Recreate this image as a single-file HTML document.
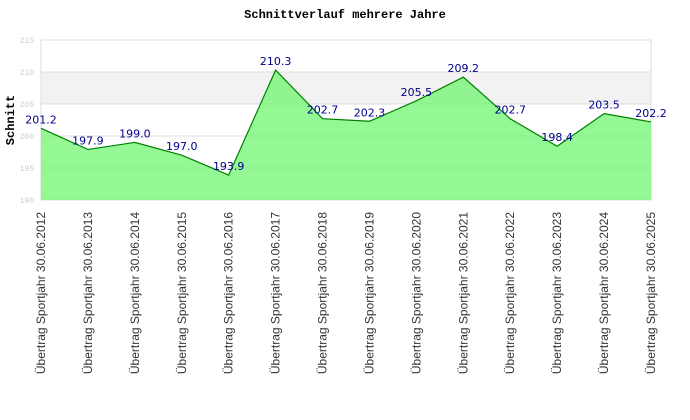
<!DOCTYPE html>
<html><head><meta charset="utf-8"><style>
body{margin:0;background:#fff}
svg{display:block}
</style></head><body>
<svg width="690" height="420" xmlns="http://www.w3.org/2000/svg">
<rect width="690" height="420" fill="#fff"/>
<text x="345" y="18" text-anchor="middle" font-family="Liberation Mono, monospace" font-weight="bold" font-size="12" fill="#000">Schnittverlauf mehrere Jahre</text>
<text transform="translate(14,120) rotate(-90)" text-anchor="middle" font-family="Liberation Mono, monospace" font-weight="bold" font-size="12" fill="#000">Schnitt</text>
<g id="grid"></g>
<g id="marks"></g>
<g id="labels"></g>
</svg>
<script>
const categories=["Übertrag Sportjahr 30.06.2012","Übertrag Sportjahr 30.06.2013","Übertrag Sportjahr 30.06.2014","Übertrag Sportjahr 30.06.2015","Übertrag Sportjahr 30.06.2016","Übertrag Sportjahr 30.06.2017","Übertrag Sportjahr 30.06.2018","Übertrag Sportjahr 30.06.2019","Übertrag Sportjahr 30.06.2020","Übertrag Sportjahr 30.06.2021","Übertrag Sportjahr 30.06.2022","Übertrag Sportjahr 30.06.2023","Übertrag Sportjahr 30.06.2024","Übertrag Sportjahr 30.06.2025"];
const values=[201.2,197.9,199.0,197.0,193.9,210.3,202.7,202.3,205.5,209.2,202.7,198.4,203.5,202.2];
const yTicks=[190,195,200,205,210,215];
const NS="http://www.w3.org/2000/svg";
const L=41,R=651,T=40,B=200,ymin=190,ymax=215;
const xs=i=>L+(R-L)*i/(categories.length-1);
const ys=v=>B-(v-ymin)/(ymax-ymin)*(B-T);
function mk(t,a,p){const e=document.createElementNS(NS,t);for(const k in a)e.setAttribute(k,a[k]);p.appendChild(e);return e;}
const grid=document.getElementById('grid'),marks=document.getElementById('marks'),labels=document.getElementById('labels');
const band=mk('rect',{x:L,y:ys(210),width:R-L,height:ys(205)-ys(210),fill:'#f2f2f2'},grid);


yTicks.forEach(t=>{
 const ln=mk('line',{x1:L,x2:R,y1:ys(t),y2:ys(t),stroke:'#ddd','stroke-width':1},grid);
 
 
 const tx=mk('text',{x:L-7,y:ys(t)+3,'text-anchor':'end','font-family':'Liberation Mono, monospace','font-size':8,fill:'#ccc'},grid);
 tx.textContent=t;
 
 
});
const bl=mk('line',{x1:L,x2:L,y1:T,y2:B,stroke:'#ddd'},grid);


const br=mk('line',{x1:R,x2:R,y1:T,y2:B,stroke:'#ddd'},grid);


let pts=values.map((v,i)=>xs(i)+','+ys(v)).join(' ');
const area=mk('polygon',{points:L+','+B+' '+pts+' '+R+','+B,fill:'#66f566','fill-opacity':0.7},marks);


const line=mk('polyline',{points:pts,fill:'none',stroke:'#008000','stroke-width':1.2},marks);


values.forEach((v,i)=>{
 const t=mk('text',{x:xs(i),y:ys(v)-5,'text-anchor':'middle','font-family':'DejaVu Sans, sans-serif','font-size':11,fill:'#00008b'},labels);
 t.textContent=v.toFixed(1);
 
 
});
categories.forEach((c,i)=>{
 const t=mk('text',{transform:'translate('+(xs(i)+4)+',212) rotate(-90)','text-anchor':'end','font-family':'Liberation Sans, sans-serif','font-size':12,fill:'#333'},labels);
 t.textContent=c;
 
 
});
</script>
</body></html>
